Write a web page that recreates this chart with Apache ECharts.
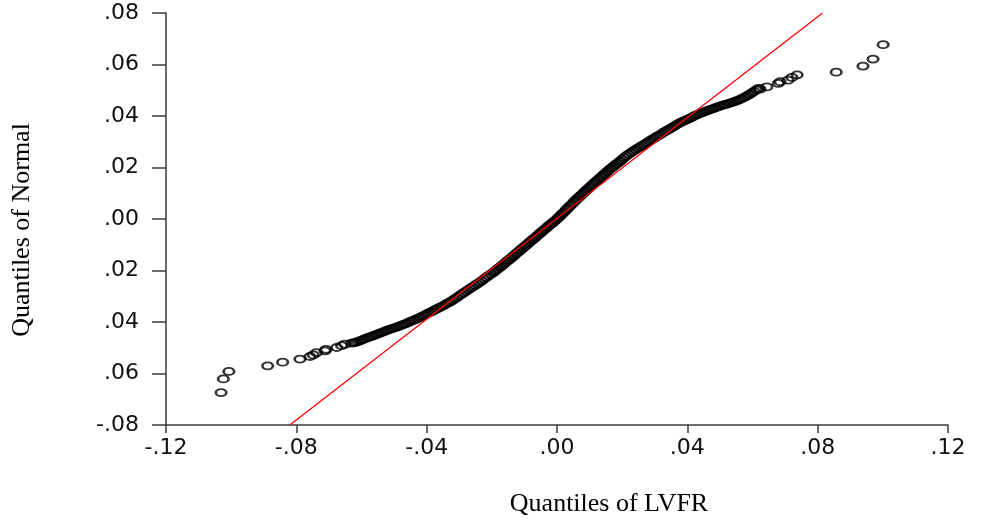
<!DOCTYPE html>
<html>
<head>
<meta charset="utf-8">
<script src="https://cdn.jsdelivr.net/npm/echarts@6/dist/echarts.min.js"></script>
<style>
html,body{margin:0;padding:0;background:#fff;}
#chart{width:987px;height:524px;}
</style>
</head>
<body>
<div id="chart"></div>
<script>
// Tick labels as printed in the reference
var xTickLabels = ['-.12', '-.08', '-.04', '.00', '.04', '.08', '.12'];
var yTickLabels = ['-.08', '.06', '.04', '.02', '.00', '.02', '.04', '.06', '.08'];

// Axis titles
var xTitle = 'Quantiles of LVFR';
var yTitle = 'Quantiles of Normal';

// Left tail (sparse points): [LVFR quantile, Normal quantile]
var leftTail = [
  [-0.1031, -0.0674], [-0.1024, -0.0621], [-0.1007, -0.0592], [-0.0888, -0.0570],
  [-0.0842, -0.0556], [-0.0789, -0.0544], [-0.0758, -0.0534], [-0.0748, -0.0528],
  [-0.0738, -0.0519], [-0.0712, -0.0512], [-0.0709, -0.0506], [-0.0676, -0.0499],
  [-0.0661, -0.0492], [-0.0651, -0.0486]
];

// Dense body of the distribution
var body = [
  [-0.0630, -0.0482], [-0.0623, -0.0480], [-0.0616, -0.0478], [-0.0609, -0.0475],
  [-0.0602, -0.0471], [-0.0595, -0.0468], [-0.0588, -0.0465], [-0.0581, -0.0461],
  [-0.0574, -0.0458], [-0.0567, -0.0455], [-0.0560, -0.0451], [-0.0553, -0.0448],
  [-0.0546, -0.0444], [-0.0539, -0.0441], [-0.0532, -0.0437], [-0.0525, -0.0434],
  [-0.0518, -0.0431], [-0.0511, -0.0428], [-0.0504, -0.0425], [-0.0497, -0.0422],
  [-0.0490, -0.0419], [-0.0483, -0.0415], [-0.0476, -0.0412], [-0.0469, -0.0408],
  [-0.0462, -0.0405], [-0.0455, -0.0401], [-0.0448, -0.0397], [-0.0441, -0.0394],
  [-0.0434, -0.0390], [-0.0427, -0.0386], [-0.0420, -0.0382], [-0.0413, -0.0377],
  [-0.0406, -0.0373], [-0.0399, -0.0368], [-0.0392, -0.0364], [-0.0385, -0.0360],
  [-0.0378, -0.0355], [-0.0371, -0.0350], [-0.0364, -0.0346], [-0.0357, -0.0341],
  [-0.0350, -0.0337], [-0.0343, -0.0332], [-0.0336, -0.0327], [-0.0329, -0.0323],
  [-0.0322, -0.0317], [-0.0315, -0.0311], [-0.0308, -0.0305], [-0.0301, -0.0299],
  [-0.0294, -0.0293], [-0.0287, -0.0287], [-0.0280, -0.0281], [-0.0273, -0.0275],
  [-0.0266, -0.0269], [-0.0259, -0.0264], [-0.0252, -0.0258], [-0.0245, -0.0252],
  [-0.0238, -0.0246], [-0.0231, -0.0240], [-0.0224, -0.0233], [-0.0217, -0.0227],
  [-0.0210, -0.0220], [-0.0203, -0.0214], [-0.0196, -0.0208], [-0.0191, -0.0203],
  [-0.0186, -0.0198], [-0.0181, -0.0193], [-0.0176, -0.0188], [-0.0171, -0.0183],
  [-0.0166, -0.0178], [-0.0161, -0.0172], [-0.0156, -0.0167], [-0.0151, -0.0162],
  [-0.0146, -0.0157], [-0.0141, -0.0152], [-0.0136, -0.0146], [-0.0131, -0.0141],
  [-0.0126, -0.0135], [-0.0121, -0.0130], [-0.0116, -0.0125], [-0.0111, -0.0119],
  [-0.0106, -0.0114], [-0.0101, -0.0108], [-0.0096, -0.0103], [-0.0091, -0.0098],
  [-0.0086, -0.0092], [-0.0081, -0.0087], [-0.0076, -0.0081], [-0.0071, -0.0076],
  [-0.0066, -0.0071], [-0.0061, -0.0065], [-0.0056, -0.0060], [-0.0051, -0.0054],
  [-0.0046, -0.0049], [-0.0041, -0.0043], [-0.0036, -0.0038], [-0.0031, -0.0033],
  [-0.0026, -0.0027], [-0.0021, -0.0022], [-0.0016, -0.0017], [-0.0011, -0.0012],
  [-0.0006, -0.0006], [-0.0001, -0.0001], [0.0004, 0.0005], [0.0009, 0.0011],
  [0.0014, 0.0018], [0.0019, 0.0024], [0.0024, 0.0030], [0.0029, 0.0037],
  [0.0034, 0.0043], [0.0039, 0.0050], [0.0044, 0.0056], [0.0049, 0.0062],
  [0.0054, 0.0069], [0.0059, 0.0075], [0.0064, 0.0081], [0.0069, 0.0087],
  [0.0074, 0.0093], [0.0079, 0.0098], [0.0084, 0.0104], [0.0089, 0.0110],
  [0.0094, 0.0116], [0.0099, 0.0122], [0.0104, 0.0128], [0.0109, 0.0134],
  [0.0114, 0.0139], [0.0119, 0.0145], [0.0124, 0.0150], [0.0129, 0.0156],
  [0.0134, 0.0162], [0.0139, 0.0167], [0.0144, 0.0173], [0.0149, 0.0178],
  [0.0154, 0.0184], [0.0159, 0.0190], [0.0164, 0.0195], [0.0169, 0.0200],
  [0.0174, 0.0205], [0.0179, 0.0210], [0.0184, 0.0215], [0.0189, 0.0220],
  [0.0194, 0.0225], [0.0199, 0.0231], [0.0206, 0.0238], [0.0213, 0.0245],
  [0.0220, 0.0252], [0.0227, 0.0258], [0.0234, 0.0264], [0.0241, 0.0269],
  [0.0248, 0.0275], [0.0255, 0.0280], [0.0262, 0.0286], [0.0269, 0.0291],
  [0.0276, 0.0297], [0.0283, 0.0302], [0.0290, 0.0308], [0.0297, 0.0313],
  [0.0304, 0.0319], [0.0311, 0.0324], [0.0318, 0.0329], [0.0325, 0.0335],
  [0.0332, 0.0340], [0.0339, 0.0345], [0.0346, 0.0350], [0.0353, 0.0355],
  [0.0360, 0.0361], [0.0367, 0.0366], [0.0374, 0.0371], [0.0381, 0.0376],
  [0.0388, 0.0380], [0.0395, 0.0384], [0.0402, 0.0388], [0.0409, 0.0392],
  [0.0416, 0.0397], [0.0423, 0.0401], [0.0430, 0.0405], [0.0437, 0.0409],
  [0.0444, 0.0412], [0.0451, 0.0416], [0.0458, 0.0419], [0.0465, 0.0423],
  [0.0472, 0.0426], [0.0479, 0.0429], [0.0486, 0.0432], [0.0493, 0.0435],
  [0.0500, 0.0438], [0.0507, 0.0441], [0.0514, 0.0444], [0.0521, 0.0446],
  [0.0528, 0.0449], [0.0535, 0.0452], [0.0542, 0.0455], [0.0549, 0.0458],
  [0.0556, 0.0462], [0.0563, 0.0465], [0.0570, 0.0469], [0.0577, 0.0474],
  [0.0584, 0.0479], [0.0591, 0.0484], [0.0598, 0.0490], [0.0605, 0.0496],
  [0.0612, 0.0502], [0.0619, 0.0507], [0.0623, 0.0504]
];

// Right tail (sparse points)
var rightTail = [
  [0.0644, 0.0513], [0.0679, 0.0527], [0.0685, 0.0533], [0.0709, 0.0539],
  [0.0721, 0.0550], [0.0737, 0.0560], [0.0857, 0.0570], [0.0939, 0.0594],
  [0.0970, 0.0621], [0.1001, 0.0677]
];

// Reference line end points
var refLine = [[-0.0820, -0.0800], [0.0815, 0.0800]];

var qqPoints = leftTail.concat(body, rightTail);

var chart = echarts.init(document.getElementById('chart'), null, {renderer: 'canvas'});

var xMin = -0.12, xMax = 0.12, xInt = 0.04;
var yMin = -0.08, yMax = 0.08, yInt = 0.02;

var axisColor = '#3a3a3a';
var labelFont = 'DejaVu Sans';
var titleFont = '"Liberation Serif", "Times New Roman", serif';

chart.setOption({
  animation: false,
  backgroundColor: '#ffffff',
  grid: {left: 166, right: 39, top: 13, bottom: 99, containLabel: false},
  xAxis: {
    type: 'value',
    min: xMin, max: xMax, interval: xInt,
    name: xTitle,
    nameLocation: 'middle',
    nameGap: 66,
    nameTextStyle: {fontFamily: titleFont, fontSize: 26, color: '#000', padding: [0, 0, 0, 104]},
    axisLine: {show: true, onZero: false, lineStyle: {color: axisColor, width: 1.5}},
    axisTick: {show: true, inside: false, length: 8, lineStyle: {color: axisColor, width: 1.5}},
    axisLabel: {
      margin: 12, fontFamily: labelFont, fontSize: 22, color: '#111',
      formatter: function (v) { return xTickLabels[Math.round((v - xMin) / xInt)]; }
    },
    splitLine: {show: false}
  },
  yAxis: {
    type: 'value',
    min: yMin, max: yMax, interval: yInt,
    name: yTitle,
    nameLocation: 'middle',
    nameGap: 131,
    nameRotate: 90,
    nameTextStyle: {fontFamily: titleFont, fontSize: 26, color: '#000', padding: [0, 22, 0, 0]},
    axisLine: {show: true, onZero: false, lineStyle: {color: axisColor, width: 1.5}},
    axisTick: {show: true, inside: false, length: 14, lineStyle: {color: axisColor, width: 1.5}},
    axisLabel: {
      margin: 27, fontFamily: labelFont, fontSize: 22, color: '#111',
      formatter: function (v) { return yTickLabels[Math.round((v - yMin) / yInt)]; }
    },
    splitLine: {show: false}
  },
  series: [
    {
      type: 'scatter',
      data: qqPoints,
      symbol: 'circle',
      symbolSize: [10.5, 7],
      itemStyle: {color: 'rgba(0,0,0,0)', borderColor: '#000', borderWidth: 2.2},
      z: 2,
      silent: true
    },
    {
      type: 'line',
      data: refLine,
      showSymbol: false,
      symbol: 'none',
      lineStyle: {color: '#ff0000', width: 1.3},
      z: 3,
      silent: true
    }
  ]
});
</script>
</body>
</html>
